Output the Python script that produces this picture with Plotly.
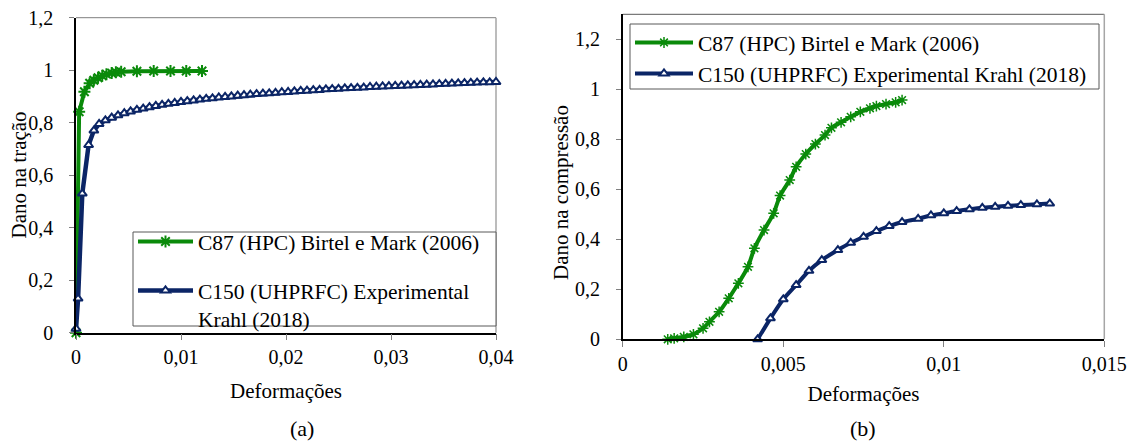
import plotly.graph_objects as go

# ---------------- data ----------------
# (a) tension damage
c87_t_x = [0, 0.0003, 0.0008, 0.0013, 0.0017, 0.0021, 0.0025, 0.0029, 0.0034, 0.0038,
           0.0043, 0.0058, 0.0074, 0.0090, 0.0105, 0.0120]
c87_t_y = [0, 0.842, 0.918, 0.950, 0.962, 0.971, 0.979, 0.985, 0.989, 0.992,
           0.994, 0.996, 0.997, 0.997, 0.997, 0.997]

c150_t_x = [0, 0.0002, 0.0006, 0.0012, 0.0017,
            0.0022, 0.0028, 0.0034, 0.0040, 0.0046, 0.0052, 0.0058, 0.0064, 0.0070, 0.0076,
            0.0082, 0.0088, 0.0094, 0.0100, 0.0106, 0.0112, 0.0118, 0.0124, 0.0130, 0.0136,
            0.0142, 0.0148, 0.0154, 0.0160, 0.0166, 0.0172, 0.0178, 0.0184, 0.0190, 0.0196,
            0.0202, 0.0208, 0.0214, 0.0220, 0.0226, 0.0232, 0.0238, 0.0244, 0.0250, 0.0256,
            0.0262, 0.0268, 0.0274, 0.0280, 0.0286, 0.0292, 0.0298, 0.0304, 0.0310, 0.0316,
            0.0322, 0.0328, 0.0334, 0.0340, 0.0346, 0.0352, 0.0358, 0.0364, 0.0370, 0.0376,
            0.0382, 0.0388, 0.0394, 0.0400]
c150_t_y = [0.015, 0.13, 0.53, 0.715, 0.77,
            0.795, 0.809, 0.819, 0.828, 0.836, 0.843, 0.849, 0.854, 0.859, 0.864,
            0.868, 0.872, 0.875, 0.879, 0.882, 0.885, 0.888, 0.891, 0.893, 0.896,
            0.898, 0.900, 0.903, 0.905, 0.907, 0.909, 0.911, 0.912, 0.914, 0.916,
            0.917, 0.919, 0.921, 0.922, 0.924, 0.925, 0.927, 0.928, 0.929, 0.931,
            0.932, 0.933, 0.934, 0.936, 0.937, 0.938, 0.939, 0.940, 0.941, 0.942,
            0.943, 0.944, 0.945, 0.946, 0.947, 0.948, 0.949, 0.950, 0.951, 0.952,
            0.953, 0.954, 0.954, 0.955]

# (b) compression damage
c87_c_x = [0.0014, 0.0016, 0.0019, 0.0022, 0.0025, 0.0027, 0.0030, 0.0033, 0.0036, 0.0039,
           0.0041, 0.0044, 0.0047, 0.0049, 0.0052, 0.0054, 0.0057, 0.0060, 0.0063, 0.0065,
           0.0068, 0.0071, 0.0074, 0.0077, 0.0079, 0.0082, 0.0085, 0.0087]
c87_c_y = [0, 0.004, 0.01, 0.02, 0.044, 0.07, 0.11, 0.164, 0.224, 0.29,
           0.364, 0.437, 0.504, 0.575, 0.637, 0.69, 0.741, 0.781, 0.817, 0.846,
           0.868, 0.89, 0.91, 0.924, 0.933, 0.941, 0.948, 0.957]

c150_c_x = [0.0042, 0.0046, 0.0050, 0.0054, 0.0058, 0.0062, 0.0067, 0.0071, 0.0075, 0.0079,
            0.0083, 0.0087, 0.0092, 0.0096, 0.0100, 0.0104, 0.0108, 0.0112, 0.0116, 0.0120,
            0.0124, 0.0129, 0.0133]
c150_c_y = [0, 0.084, 0.16, 0.217, 0.274, 0.317, 0.357, 0.386, 0.41, 0.433,
            0.453, 0.469, 0.482, 0.496, 0.504, 0.513, 0.52, 0.526, 0.53, 0.534,
            0.537, 0.54, 0.543]

name_c87 = "C87 (HPC) Birtel e Mark (2006)"
name_c150_a = "C150 (UHPRFC) Experimental<br>Krahl (2018)"
name_c150_b = "C150 (UHPRFC) Experimental Krahl (2018)"

xt_a_vals = [0, 0.01, 0.02, 0.03, 0.04]
xt_a_text = ["0", "0,01", "0,02", "0,03", "0,04"]
xt_b_vals = [0, 0.005, 0.01, 0.015]
xt_b_text = ["0", "0,005", "0,01", "0,015"]
yt_vals = [0, 0.2, 0.4, 0.6, 0.8, 1.0, 1.2]
yt_text = ["0", "0,2", "0,4", "0,6", "0,8", "1", "1,2"]

# ---------------- style ----------------
GREEN = "#0a8a0a"
BLUE = "#0b2566"
FONT = "Times New Roman, Liberation Serif, DejaVu Serif, serif"
W, H = 1135, 443

def px_x(p):
    return p / W

def px_y(p):
    return 1 - p / H

fig = go.Figure()

green_marker = dict(symbol="asterisk-open", size=10, color=GREEN, line=dict(color=GREEN, width=2))
blue_marker = dict(symbol="triangle-up", size=8, color="white", line=dict(color=BLUE, width=2))

fig.add_trace(go.Scatter(x=c87_t_x, y=c87_t_y, name=name_c87, mode="lines+markers",
                         line=dict(color=GREEN, width=4), marker=green_marker,
                         xaxis="x", yaxis="y", legend="legend", legendgroup="a1",
                         cliponaxis=False))
fig.add_trace(go.Scatter(x=c150_t_x, y=c150_t_y, name=name_c150_a, mode="lines+markers",
                         line=dict(color=BLUE, width=4.5), marker=blue_marker,
                         xaxis="x", yaxis="y", legend="legend", legendgroup="a2",
                         cliponaxis=False))
fig.add_trace(go.Scatter(x=c87_c_x, y=c87_c_y, name=name_c87, mode="lines+markers",
                         line=dict(color=GREEN, width=4, shape="spline", smoothing=0.6),
                         marker=dict(symbol="asterisk-open", size=9, color=GREEN,
                                     line=dict(color=GREEN, width=1.5)),
                         xaxis="x2", yaxis="y2", legend="legend2", cliponaxis=False))
fig.add_trace(go.Scatter(x=c150_c_x, y=c150_c_y, name=name_c150_b, mode="lines+markers",
                         line=dict(color=BLUE, width=4, shape="spline", smoothing=0.6),
                         marker=blue_marker,
                         xaxis="x2", yaxis="y2", legend="legend2", cliponaxis=False))

tickfont = dict(family=FONT, size=20, color="black")
titlefont = dict(family=FONT, size=21, color="black")

common_x = dict(showgrid=False, zeroline=False, showline=True, linecolor="black", linewidth=1.5,
                ticks="outside", ticklen=6, tickcolor="#808080", tickwidth=1,
                tickfont=tickfont, ticklabelstandoff=0, automargin=False)
common_y = dict(showgrid=False, zeroline=False, showline=True, linecolor="black", linewidth=1.5,
                ticks="outside", ticklen=5, tickcolor="#808080", tickwidth=1,
                tickfont=tickfont, tickmode="array", tickvals=yt_vals, ticktext=yt_text,
                ticklabelstandoff=12, automargin=False)

legend_font = dict(family=FONT, size=21.5, color="black")

fig.update_layout(
    width=W, height=H,
    margin=dict(l=0, r=0, t=0, b=0, autoexpand=False),
    paper_bgcolor="white", plot_bgcolor="white",
    font=dict(family=FONT, color="black"),
    xaxis=dict(domain=[px_x(76), px_x(496)], range=[0, 0.04], anchor="y",
               tickmode="array", tickvals=xt_a_vals, ticktext=xt_a_text,
               title=dict(text="Deformações", font=titlefont, standoff=16), **common_x),
    yaxis=dict(domain=[px_y(332.7), px_y(17.7)], range=[0, 1.2], anchor="x", **common_y),
    xaxis2=dict(domain=[px_x(622.8), px_x(1104.3)], range=[0, 0.015], anchor="y2",
                tickmode="array", tickvals=xt_b_vals, ticktext=xt_b_text,
                title=dict(text="Deformações", font=titlefont, standoff=12), **common_x),
    yaxis2=dict(domain=[px_y(339.3), px_y(14.3)], range=[0, 1.3], anchor="x2", **common_y),
    legend=dict(x=px_x(133), y=px_y(221), xanchor="left", yanchor="top",
                bgcolor="rgba(0,0,0,0)", borderwidth=0, valign="top",
                font=legend_font, tracegroupgap=18, itemwidth=55),
    legend2=dict(x=px_x(630), y=px_y(22), xanchor="left", yanchor="top",
                 bgcolor="rgba(0,0,0,0)", borderwidth=0,
                 font=legend_font, itemwidth=58),
    showlegend=True,
    shapes=[
        dict(type="line", xref="x domain", yref="y domain", x0=0, x1=1, y0=1, y1=1,
             line=dict(color="#7f7f7f", width=1), layer="below"),
        dict(type="line", xref="x domain", yref="y domain", x0=1, x1=1, y0=0, y1=1,
             line=dict(color="#a6a6a6", width=1.5), layer="below"),
        dict(type="line", xref="x2 domain", yref="y2 domain", x0=0, x1=1, y0=1, y1=1,
             line=dict(color="#595959", width=1), layer="below"),
        dict(type="line", xref="x2 domain", yref="y2 domain", x0=1, x1=1, y0=0, y1=1,
             line=dict(color="#a6a6a6", width=1.5), layer="below"),
        # legend frames
        dict(type="rect", xref="paper", yref="paper",
             x0=px_x(133), x1=px_x(496), y0=px_y(326), y1=px_y(232),
             fillcolor="white", line=dict(color="#595959", width=1), layer="above"),
        dict(type="rect", xref="paper", yref="paper",
             x0=px_x(630), x1=px_x(1099), y0=px_y(89), y1=px_y(24),
             fillcolor="white", line=dict(color="#595959", width=1), layer="above"),
    ],
    annotations=[
        dict(text="Dano na tração", x=px_x(18.5), y=px_y(175), xref="paper", yref="paper",
             xanchor="center", yanchor="middle", textangle=-90, showarrow=False,
             font=titlefont),
        dict(text="Dano na compressão", x=px_x(561), y=px_y(193), xref="paper", yref="paper",
             xanchor="center", yanchor="middle", textangle=-90, showarrow=False,
             font=titlefont),
        dict(text="(a)", x=px_x(288), y=px_y(428), xref="paper", yref="paper",
             yanchor="middle", showarrow=False, font=dict(family=FONT, size=22, color="black")),
        dict(text="(b)", x=px_x(878), y=px_y(428), xref="paper", yref="paper",
             yanchor="middle", showarrow=False, font=dict(family=FONT, size=22, color="black")),
    ],
)

fig.write_html("out.html", post_script="document.body.style.margin='0px';",
               config={"displayModeBar": False})
